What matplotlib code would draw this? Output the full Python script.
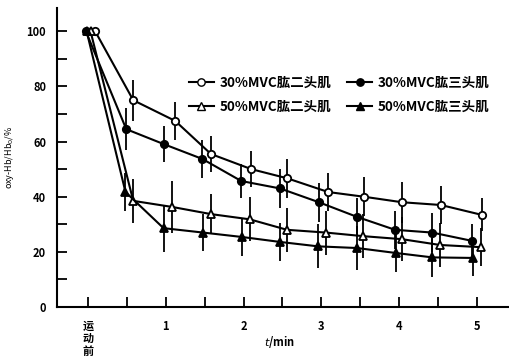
import matplotlib
matplotlib.use("Agg")
import matplotlib.pyplot as plt
from matplotlib.lines import Line2D
from matplotlib.ticker import MultipleLocator

plt.rcParams["font.family"] = ["Noto Sans CJK SC", "DejaVu Sans"]

# 30%MVC 肱二头肌 (open circle)
t_oc = [0.09, 0.58, 1.12, 1.58, 2.10, 2.56, 3.09, 3.55, 4.04, 4.54, 5.07]
y_oc = [100, 75, 67.5, 55.5, 50, 46.7, 41.7, 40, 38, 37, 33.4]
e_oc = [0, 7.5, 7, 6.7, 6.5, 7, 7, 7, 7.5, 7, 6]

# 30%MVC 肱三头肌 (filled circle)
t_fc = [-0.03, 0.49, 0.98, 1.47, 1.97, 2.47, 2.97, 3.46, 3.95, 4.43, 4.94]
y_fc = [100, 64.5, 59, 53.7, 45.7, 43, 38, 32.7, 28, 27, 24]
e_fc = [0, 7.5, 6.5, 7, 6.3, 7, 7, 7, 7, 7, 6]

# 50%MVC 肱二头肌 (open triangle)
t_ot = [0.03, 0.58, 1.08, 1.58, 2.08, 2.56, 3.06, 3.54, 4.04, 4.53, 5.06]
y_ot = [100, 38.5, 36.3, 33.7, 31.8, 28, 27, 25.7, 24.6, 22.5, 21.7]
e_ot = [0, 8, 9.5, 7.3, 8, 8, 8, 8, 8, 8, 7]

# 50%MVC 肱三头肌 (filled triangle)
t_ft = [-0.02, 0.48, 0.97, 1.48, 1.98, 2.47, 2.96, 3.46, 3.96, 4.43, 4.95]
y_ft = [100, 41.7, 28.6, 27, 25.4, 23.6, 22, 21.4, 19.6, 18, 17.8]
e_ft = [0, 7, 8.5, 6.7, 7, 7, 8, 8, 7, 7, 6.5]

labels = ["30%MVC肱二头肌", "50%MVC肱二头肌", "30%MVC肱三头肌", "50%MVC肱三头肌"]
xtick_pos = [0, 1, 2, 3, 4, 5]
xtick_lab = ["运\n动\n前", "1", "2", "3", "4", "5"]

fig = plt.figure(figsize=(5.1, 3.57), dpi=100)
ax = fig.add_axes([0.112, 0.14, 0.888, 0.838])

series = [
    (t_oc, y_oc, e_oc, "o", "white", 5.3),
    (t_fc, y_fc, e_fc, "o", "black", 5.3),
    (t_ot, y_ot, e_ot, "^", "white", 5.3),
    (t_ft, y_ft, e_ft, "^", "black", 5.3),
]
for t, y, e, m, fc, ms in series:
    ax.errorbar(t, y, yerr=e, fmt="none", ecolor="black", elinewidth=1.3,
                capsize=0, zorder=2)
    ax.plot(t, y, "-", color="black", lw=1.5, marker=m, ms=ms,
            mfc=fc, mec="black", mew=1.3, zorder=3)

ax.set_xlim(-0.4, 5.43)
ax.set_ylim(0, 108.5)
for s in ["top", "right"]:
    ax.spines[s].set_visible(False)
for s in ["left", "bottom"]:
    ax.spines[s].set_linewidth(1.5)

ax.set_xticks(xtick_pos)
ax.set_xticklabels(xtick_lab, fontsize=8, fontweight="bold", va="top",
                   linespacing=0.95)
ax.xaxis.set_minor_locator(MultipleLocator(0.5))
ax.yaxis.set_major_locator(MultipleLocator(20))
ax.yaxis.set_minor_locator(MultipleLocator(10))
ax.tick_params(axis="both", which="both", direction="in", length=7,
               width=1.3, labelsize=8)
ax.tick_params(axis="x", pad=9)
ax.tick_params(axis="y", pad=8)
for lab in ax.get_yticklabels():
    lab.set_fontweight("bold")

ax.set_ylabel("oxy-Hb/Hb$_0$/%", fontsize=6.5)
ax.yaxis.set_label_coords(-0.09, 0.5)
ax.text(0.49, -0.117, "$t$/min", transform=ax.transAxes, ha="center",
        va="center", fontsize=8, fontweight="bold")

handles = [
    Line2D([], [], color="black", lw=1.5, marker="o", ms=5.3, mfc="white"),
    Line2D([], [], color="black", lw=1.5, marker="^", ms=5.3, mfc="white"),
    Line2D([], [], color="black", lw=1.5, marker="o", ms=5.3, mfc="black"),
    Line2D([], [], color="black", lw=1.5, marker="^", ms=5.3, mfc="black"),
]
ax.legend(handles, labels, ncol=2, frameon=False, loc="upper left",
          bbox_to_anchor=(0.265, 0.815), handlelength=1.8, handletextpad=0.45,
          columnspacing=1.2, labelspacing=0.8,
          prop={"size": 9.7, "weight": "bold"})

fig.savefig("out.png", dpi=100)
